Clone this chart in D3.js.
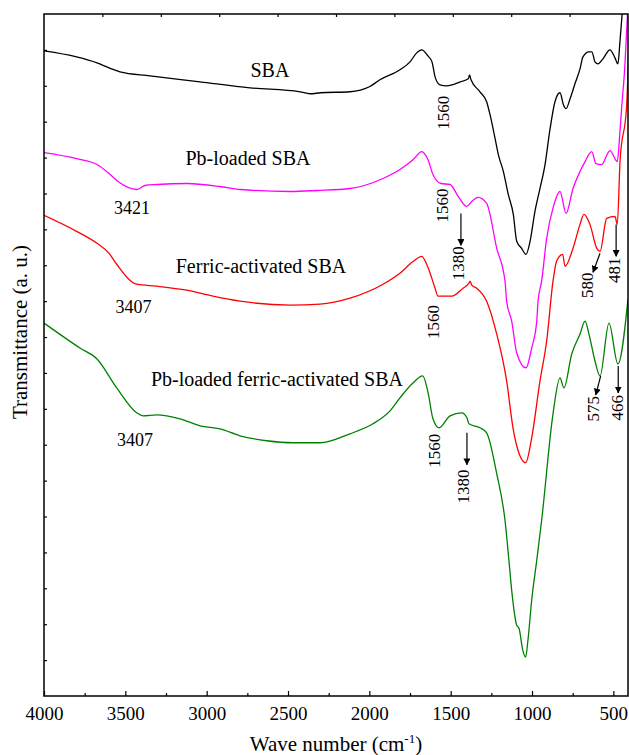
<!DOCTYPE html>
<html>
<head>
<meta charset="utf-8">
<script src="https://cdn.jsdelivr.net/npm/d3@7"></script>
<style>
  body { margin: 0; background: #fff; }
  svg text { font-family: "Liberation Serif", "Times New Roman", serif; fill: #000; }
</style>
</head>
<body>
<svg id="canvas"></svg>
<script>
// FTIR spectra, offset transmittance (a.u.) vs wave number (cm-1)
const sba = [
  [4000, 647], [3800, 641], [3674, 635], [3600, 630], [3533, 626], [3348, 622], [3041, 616], [2734, 610],
  [2426, 606], [2365, 604], [2300, 605], [2119, 606], [2000, 611], [1935, 618], [1812, 628],
  [1750, 636], [1709, 645], [1678, 648], [1640, 642], [1615, 636], [1596, 621],
  [1566, 613], [1525, 612], [1440, 616], [1392, 619], [1384, 623], [1375, 618],
  [1320, 606], [1279, 596], [1258, 583], [1227, 559], [1207, 543], [1176, 526],
  [1146, 503], [1115, 483], [1094, 456], [1064, 449], [1037, 443], [1012, 456],
  [982, 486], [951, 509], [920, 533], [889, 569], [859, 596], [828, 605],
  [807, 593], [791, 589], [766, 599], [736, 614], [705, 629], [687, 641],
  [650, 646], [632, 646], [613, 636], [594, 634], [564, 639], [521, 648],
  [490, 640], [472, 634], [460, 655], [446, 684]
];
const pbSba = [
  [4000, 545], [3800, 539], [3674, 533], [3600, 524], [3545, 516], [3428, 508], [3380, 512], [3305, 513],
  [3121, 514], [2918, 511], [2795, 508], [2488, 506], [2322, 507], [2119, 509],
  [1916, 519], [1812, 528], [1730, 538], [1678, 546], [1640, 538], [1609, 523],
  [1560, 514], [1504, 513], [1450, 500], [1402, 491], [1370, 496], [1332, 500],
  [1279, 494], [1217, 449], [1166, 416], [1156, 396], [1125, 376], [1094, 344],
  [1037, 329], [1002, 349], [971, 376], [963, 396], [941, 416], [910, 459],
  [870, 490], [828, 506], [791, 484], [748, 509], [705, 526], [674, 536],
  [633, 546], [607, 534], [572, 533], [521, 547], [476, 536], [462, 560],
  [449, 590], [430, 630], [413, 684]
];
const ferricSba = [
  [4000, 482], [3800, 466], [3674, 454], [3600, 444], [3553, 433], [3430, 413], [3307, 411], [3123, 407],
  [2961, 401], [2795, 396], [2488, 392], [2303, 393], [2119, 399], [1916, 413],
  [1812, 424], [1730, 436], [1678, 441], [1640, 430], [1596, 409], [1578, 401],
  [1494, 401], [1424, 409], [1388, 414], [1381, 416], [1370, 412], [1340, 409],
  [1279, 396], [1217, 363], [1156, 316], [1117, 269], [1094, 251], [1039, 234],
  [1002, 259], [951, 316], [910, 356], [871, 416], [849, 436], [812, 443],
  [797, 431], [748, 449], [705, 473], [681, 483], [644, 473], [602, 449],
  [582, 446], [541, 479], [490, 481], [476, 473], [459, 536], [418, 593],
  [400, 690]
];
const pbFerricSba = [
  [4000, 374], [3779, 349], [3674, 338], [3553, 309], [3430, 284], [3391, 281],
  [3307, 282], [3164, 278], [3041, 271], [2918, 268], [2795, 261], [2631, 256],
  [2469, 254], [2303, 254], [2119, 263], [1978, 273], [1873, 286], [1812, 299],
  [1732, 314], [1672, 321], [1640, 305], [1609, 278], [1572, 269], [1504, 281],
  [1432, 284], [1400, 279], [1388, 273], [1320, 269], [1279, 264], [1217, 223],
  [1166, 176], [1142, 136], [1125, 106], [1094, 71], [1080, 68], [1057, 46],
  [1039, 39], [1025, 56], [1002, 96], [971, 136], [941, 176], [871, 283],
  [828, 319], [804, 309], [756, 343], [705, 363], [674, 376], [650, 363],
  [613, 336], [582, 321], [527, 374], [472, 333], [410, 398]
];

const seriesNames = ['SBA', 'Pb-loaded SBA', 'Ferric-activated SBA', 'Pb-loaded ferric-activated SBA'];
const seriesData = [sba, pbSba, ferricSba, pbFerricSba];
const seriesColors = ['#000000', '#ff00ff', '#ff0000', '#008000'];
// series label anchors: [wavenumber, value]
const seriesLabelAt = [[2611, 621], [2746, 533], [2666, 424], [2568, 311]];

// band labels placed horizontally
const bandLabels = [
  { text: '3421', at: [3459, 483] },
  { text: '3407', at: [3450, 384] },
  { text: '3407', at: [3441, 251] }
];
// band labels rotated, with optional arrow [from, to]
const rotatedLabels = [
  { text: '1560', at: [1547, 585] },
  { text: '1560', at: [1553, 492] },
  { text: '1380', at: [1452, 434], arrow: [[1437, 484], [1437, 452]] },
  { text: '580', at: [662, 412], arrow: [[582, 444], [625, 425]] },
  { text: '481', at: [493, 427], arrow: [[483, 473], [483, 441]] },
  { text: '1560', at: [1609, 375] },
  { text: '1560', at: [1603, 246] },
  { text: '1380', at: [1421, 210], arrow: [[1400, 264], [1400, 232]] },
  { text: '575', at: [625, 288], arrow: [[578, 321], [608, 302]] },
  { text: '466', at: [475, 289], arrow: [[470, 331], [470, 304]] }
];

const xTicks = [4000, 3500, 3000, 2500, 2000, 1500, 1000, 500];

const width = 629;
const height = 755;
const margin = { top: 14, right: 1, bottom: 59, left: 44 };

const svg = d3.select('#canvas').attr('width', width).attr('height', height);

const x = d3.scaleLinear()
  .domain([4000, 410])
  .range([margin.left, width - margin.right]);

const y = d3.scaleLinear()
  .domain([0, 684])
  .range([height - margin.bottom, margin.top]);

const defs = svg.append('defs');
defs.append('clipPath').attr('id', 'plot-clip')
  .append('rect')
  .attr('x', margin.left).attr('y', margin.top)
  .attr('width', width - margin.right - margin.left)
  .attr('height', height - margin.bottom - margin.top);

defs.append('marker')
  .attr('id', 'arrowhead')
  .attr('viewBox', '0 0 10 10')
  .attr('refX', 9).attr('refY', 5)
  .attr('markerWidth', 7).attr('markerHeight', 7)
  .attr('markerUnits', 'userSpaceOnUse')
  .attr('orient', 'auto')
  .append('path')
  .attr('d', 'M0,0 L10,5 L0,10 z')
  .attr('fill', '#000');

// spectra
const line = d3.line().x(d => x(d[0])).y(d => y(d[1])).curve(d3.curveMonotoneX);
svg.append('g').attr('clip-path', 'url(#plot-clip)')
  .selectAll('path')
  .data(seriesData)
  .enter()
  .append('path')
  .attr('d', line)
  .attr('fill', 'none')
  .attr('stroke', (d, i) => seriesColors[i])
  .attr('stroke-width', 1.3)
  .attr('stroke-linejoin', 'round');

// frame + ticks
const plotW = width - margin.right - margin.left;
svg.append('rect')
  .attr('x', margin.left).attr('y', margin.top)
  .attr('width', plotW)
  .attr('height', height - margin.bottom - margin.top)
  .attr('fill', 'none').attr('stroke', '#000').attr('stroke-width', 1.5);

const bottom = svg.append('g')
  .attr('transform', `translate(0,${height - margin.bottom})`)
  .call(d3.axisBottom(x).tickValues(xTicks).tickSize(-5).tickPadding(11).tickFormat(d3.format('d')));
bottom.select('.domain').remove();
bottom.selectAll('text').style('font-size', '19px').style('font-family', '"Liberation Serif", serif');

svg.append('g')
  .attr('transform', `translate(0,${height - margin.bottom})`)
  .call(d3.axisBottom(x).tickValues(d3.range(3750, 400, -500)).tickSize(-3).tickFormat(''))
  .select('.domain').remove();

const yTicks = d3.range(36, 684, 36);
svg.append('g')
  .attr('transform', `translate(${margin.left},0)`)
  .call(d3.axisLeft(y).tickValues(yTicks).tickSize(-3).tickFormat(''))
  .select('.domain').remove();

// top axis uses ten equal divisions
const xTop = d3.scaleLinear().domain([0, 10]).range([margin.left, width - margin.right]);
svg.append('g')
  .attr('transform', `translate(0,${margin.top})`)
  .call(d3.axisTop(xTop).tickValues(d3.range(1, 10)).tickSize(-3).tickFormat(''))
  .select('.domain').remove();

svg.selectAll('.tick line').attr('stroke', '#000').attr('stroke-width', 1.2);

// axis titles
const xTitle = svg.append('text')
  .attr('x', (margin.left + width - margin.right) / 2)
  .attr('y', 751)
  .attr('text-anchor', 'middle')
  .style('font-size', '21px');
xTitle.append('tspan').text('Wave number (cm');
xTitle.append('tspan').attr('dy', -8).style('font-size', '13px').text('-1');
xTitle.append('tspan').attr('dy', 8).text(')');

svg.append('text')
  .attr('transform', 'translate(27,332) rotate(-90)')
  .attr('text-anchor', 'middle')
  .style('font-size', '21px')
  .text('Transmittance (a. u.)');

// series labels
svg.selectAll('.series-label')
  .data(seriesNames)
  .enter()
  .append('text')
  .attr('class', 'series-label')
  .attr('x', (d, i) => x(seriesLabelAt[i][0]))
  .attr('y', (d, i) => y(seriesLabelAt[i][1]))
  .attr('text-anchor', 'middle')
  .style('font-size', '20px')
  .text(d => d);

svg.selectAll('.band-label')
  .data(bandLabels)
  .enter()
  .append('text')
  .attr('class', 'band-label')
  .attr('x', d => x(d.at[0]))
  .attr('y', d => y(d.at[1]))
  .attr('text-anchor', 'middle')
  .style('font-size', '18px')
  .text(d => d.text);

svg.selectAll('.rot-label')
  .data(rotatedLabels)
  .enter()
  .append('text')
  .attr('class', 'rot-label')
  .attr('transform', d => `translate(${x(d.at[0])},${y(d.at[1])}) rotate(-90)`)
  .attr('text-anchor', 'middle')
  .attr('dy', '0.35em')
  .style('font-size', '17px')
  .text(d => d.text);

svg.selectAll('.arrow')
  .data(rotatedLabels.filter(d => d.arrow))
  .enter()
  .append('line')
  .attr('class', 'arrow')
  .attr('x1', d => x(d.arrow[0][0]))
  .attr('y1', d => y(d.arrow[0][1]))
  .attr('x2', d => x(d.arrow[1][0]))
  .attr('y2', d => y(d.arrow[1][1]))
  .attr('stroke', '#000')
  .attr('stroke-width', 1.2)
  .attr('marker-end', 'url(#arrowhead)');
</script>
</body>
</html>
